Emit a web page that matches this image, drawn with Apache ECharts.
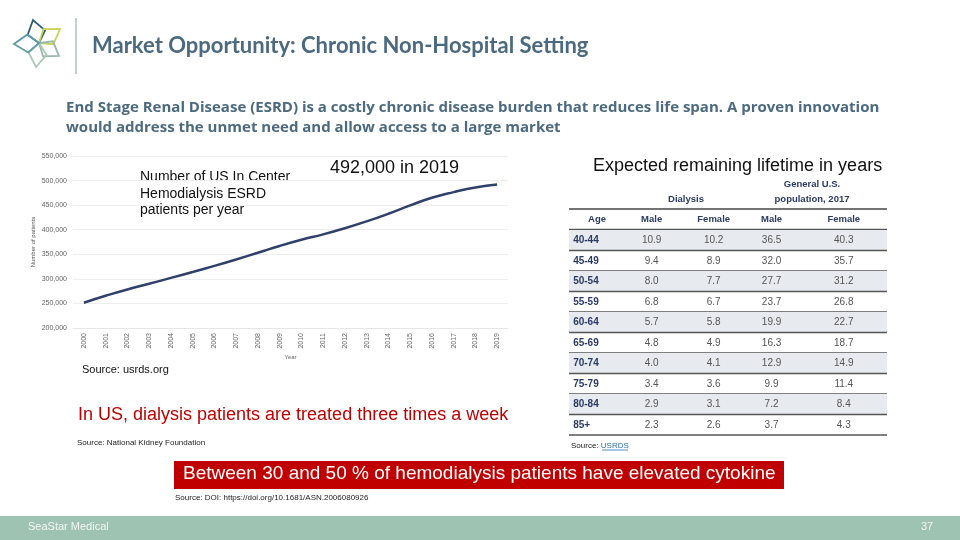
<!DOCTYPE html>
<html>
<head>
<meta charset="utf-8">
<script src="https://cdn.jsdelivr.net/npm/echarts@6/dist/echarts.min.js"></script>
<style>
html,body{margin:0;padding:0;background:#fff;}
#c{width:960px;height:540px;}
</style>
</head>
<body>
<div id="c"></div>
<script>
// ---- Data ----
const years = ['2000','2001','2002','2003','2004','2005','2006','2007','2008','2009','2010','2011','2012','2013','2014','2015','2016','2017','2018','2019'];
const patients = [251500,265500,278500,290000,302000,314000,326500,339500,353000,367000,379500,390500,403000,417000,432500,449500,465000,476500,486000,492000];
const yTicks = {min:200000, max:550000, step:50000};

const tableHeaders = ['Age','Male','Female','Male','Female'];
const groupHeaders = ['Dialysis','General U.S.\npopulation, 2017'];
const ages = ['40-44','45-49','50-54','55-59','60-64','65-69','70-74','75-79','80-84','85+'];
const dialysisMale   = [10.9,9.4,8.0,6.8,5.7,4.8,4.0,3.4,2.9,2.3];
const dialysisFemale = [10.2,8.9,7.7,6.7,5.8,4.9,4.1,3.6,3.1,2.6];
const generalMale    = [36.5,32.0,27.7,23.7,19.9,16.3,12.9,9.9,7.2,3.7];
const generalFemale  = [40.3,35.7,31.2,26.8,22.7,18.7,14.9,11.4,8.4,4.3];

// ---- Styles ----
const ARIAL = "'Liberation Sans', Arial, sans-serif";
const CAL = "Lato, 'Open Sans', sans-serif";
const OPEN = "'Open Sans', Lato, sans-serif";
const slate = '#4b6a80';
const navy = '#2b3a66';
// column anchors in table (fraction of table width)
const colX = [0.013, 0.26, 0.455, 0.637, 0.864];

const chart = echarts.init(document.getElementById('c'), null, {renderer:'canvas'});

// logo petals
const center = [39, 43];
const tips = [[33,20,'#2d5d7b'],[60,29,'#c9d35c'],[59,56,'#98b7ae'],[36,67,'#abc7ba'],[14,44,'#5e9aa8']];
const logo = tips.map(t => {
  const dx = t[0]-center[0], dy = t[1]-center[1];
  const len = Math.hypot(dx,dy);
  const px = -dy/len*9, py = dx/len*9;
  const mx = center[0]+dx*0.45, my = center[1]+dy*0.45;
  return {type:'polygon', shape:{points:[[center[0],center[1]],[mx+px,my+py],[t[0],t[1]],[mx-px,my-py]]},
    style:{fill:'none', stroke:t[2], lineWidth:1.8}};
});

function fmt(v){ return v.toLocaleString('en-US'); }

const tableData = ages.map((a,i)=>[0.5, i]);

const option = {
  animation:false,
  backgroundColor:'#fff',
  grid:[
    {left:73, right:452, top:156, bottom:212, containLabel:false},
    {left:569, right:73, top:230, bottom:105, containLabel:false}
  ],
  xAxis:[
    {type:'category', gridIndex:0, data:years, boundaryGap:true,
     name:'Year', nameLocation:'middle', nameGap:26, nameTextStyle:{fontSize:6, color:'#666', fontFamily:ARIAL},
     axisLine:{show:true, lineStyle:{color:'#e6e6e6'}}, axisTick:{show:false},
     axisLabel:{rotate:90, fontSize:7, color:'#666', margin:5, fontFamily:ARIAL}},
    {type:'value', gridIndex:1, min:0, max:1, show:false}
  ],
  yAxis:[
    {type:'value', gridIndex:0, min:yTicks.min, max:yTicks.max, interval:yTicks.step,
     name:'Number of patients', nameLocation:'middle', nameGap:37, nameRotate:90,
     nameTextStyle:{fontSize:6, color:'#555', fontFamily:ARIAL},
     axisLine:{show:false}, axisTick:{show:false},
     splitLine:{lineStyle:{color:'#eeeeee'}},
     axisLabel:{fontSize:7, color:'#666', margin:6, fontFamily:ARIAL, formatter:v=>fmt(v)}},
    {type:'category', gridIndex:1, data:ages, inverse:true, show:false}
  ],
  series:[
    {type:'line', xAxisIndex:0, yAxisIndex:0, data:patients, smooth:true, showSymbol:false,
     lineStyle:{color:'#2f416b', width:2.5}},
    {type:'custom', xAxisIndex:1, yAxisIndex:1, data:tableData, clip:false,
     renderItem:function(params, api){
       const i = api.value(1);
       const p = api.coord([0, i]);
       const sz = api.size([1, 1]);
       const w = sz[0], h = sz[1];
       const x0 = p[0], top = p[1]-h/2;
       const children = [];
       if (i % 2 === 0) children.push({type:'rect', shape:{x:x0, y:top, width:w, height:h}, style:{fill:'#e7eaee'}});
       children.push({type:'line', shape:{x1:x0, y1:top+h, x2:x0+w, y2:top+h}, style:{stroke:'#555', lineWidth:1.3}});
       const vals = [ages[i], dialysisMale[i].toFixed(1), dialysisFemale[i].toFixed(1), generalMale[i].toFixed(1), generalFemale[i].toFixed(1)];
       vals.forEach((v,k)=>{
         children.push({type:'text', style:{text:v, x:x0+w*colX[k], y:p[1], align:k===0?'left':'center', verticalAlign:'middle',
           font:(k===0?'bold ':'')+'10px '+ARIAL, fill:k===0?navy:'#555'}});
       });
       return {type:'group', children:children};
     }}
  ],
  graphic:[
    ...logo,
    {type:'line', shape:{x1:76, y1:18, x2:76, y2:74}, style:{stroke:'#a9c6b8', lineWidth:1.5}},
    {type:'text', left:92, top:35, style:{text:'Market Opportunity: Chronic Non-Hospital Setting', font:'bold 22px '+CAL, fill:slate}},
    {type:'text', left:66, top:98, style:{text:'End Stage Renal Disease (ESRD) is a costly chronic disease burden that reduces life span. A proven innovation\nwould address the unmet need and allow access to a large market', font:'bold 15px '+OPEN, fill:slate, lineHeight:20}},
    {type:'text', left:140, top:169, style:{text:'Number of US In Center\nHemodialysis ESRD\npatients per year', font:'14px '+ARIAL, fill:'#111', lineHeight:16.5}},
    {type:'text', left:330, top:159, style:{text:'492,000 in 2019', font:'18px '+ARIAL, fill:'#111'}},
    {type:'text', left:82, top:364, style:{text:'Source: usrds.org', font:'11px '+ARIAL, fill:'#111'}},
    {type:'text', left:593, top:157, style:{text:'Expected remaining lifetime in years', font:'18px '+ARIAL, fill:'#111'}},
    // table headers
    {type:'text', x:686, y:199, style:{text:groupHeaders[0], font:'bold 9.5px '+ARIAL, fill:navy, align:'center', verticalAlign:'middle'}},
    {type:'text', x:812, y:192, style:{text:groupHeaders[1], font:'bold 9.5px '+ARIAL, fill:navy, align:'center', verticalAlign:'middle', lineHeight:15}},
    {type:'line', shape:{x1:569, y1:209, x2:887, y2:209}, style:{stroke:'#444', lineWidth:1.5}},
    ...tableHeaders.map((t,k)=>({type:'text', x:k===0?597:569+318*colX[k], y:219, style:{text:t, font:'bold 9.5px '+ARIAL, fill:navy, align:'center', verticalAlign:'middle'}})),
    {type:'line', shape:{x1:569, y1:229.5, x2:887, y2:229.5}, style:{stroke:'#555', lineWidth:1.3}},
    {type:'text', left:571, top:442, style:{rich:{a:{font:'8px '+ARIAL, fill:'#222'}, b:{font:'8px '+ARIAL, fill:'#2a6ebb'}}, text:'{a|Source: }{b|USRDS}'}},
    {type:'line', shape:{x1:571+31, y1:450, x2:571+57, y2:450}, style:{stroke:'#2a6ebb', lineWidth:0.8}},
    {type:'line', shape:{x1:560, y1:458, x2:787, y2:458}, style:{stroke:'#eeeeee', lineWidth:1}},
    {type:'text', left:78, top:406, style:{text:'In US, dialysis patients are treated three times a week', font:'18px '+ARIAL, fill:'#c00000'}},
    {type:'text', left:77, top:439, style:{text:'Source: National Kidney Foundation', font:'8px '+ARIAL, fill:'#222'}},
    {type:'rect', shape:{x:174, y:461, width:610, height:28}, style:{fill:'#c00000'}},
    {type:'text', left:183, top:464, style:{text:'Between 30 and 50 % of hemodialysis patients have elevated cytokine', font:'19px '+ARIAL, fill:'#fff'}},
    {type:'text', left:175, top:494, style:{text:'Source: DOI: https://doi.org/10.1681/ASN.2006080926', font:'8px '+ARIAL, fill:'#222'}},
    {type:'rect', shape:{x:0, y:516, width:960, height:24}, style:{fill:'#9fc3b2'}},
    {type:'text', left:28, top:521, style:{text:'SeaStar Medical', font:'11px '+ARIAL, fill:'#f2f7f4'}},
    {type:'text', left:921, top:521, style:{text:'37', font:'11px '+ARIAL, fill:'#f2f7f4'}}
  ]
};
chart.setOption(option);
</script>
</body>
</html>
